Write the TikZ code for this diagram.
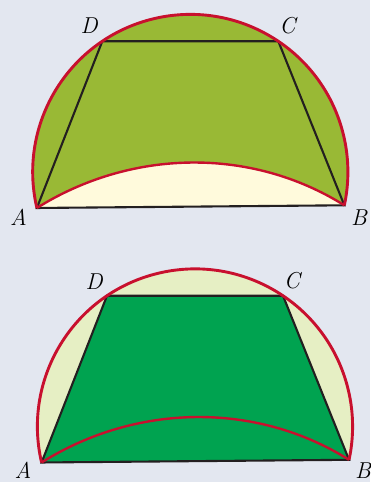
\documentclass[tikz,border=0pt]{standalone}
\usetikzlibrary{calc}
\definecolor{bgc}{RGB}{227,231,240}
\definecolor{olive}{RGB}{153,185,53}
\definecolor{paleyel}{RGB}{255,250,220}
\definecolor{palegrn}{RGB}{230,239,196}
\definecolor{deepgrn}{RGB}{0,163,80}
\definecolor{redline}{RGB}{200,16,46}
\definecolor{darkline}{RGB}{35,31,32}
\tikzset{
  redarc/.style={draw=redline, line width=2.9pt},
  redcurve/.style={draw=redline, line width=2.4pt},
  edge/.style={draw=darkline, line width=2.1pt, line join=miter},
  lbl/.style={anchor=base, inner sep=0pt, font=\fontsize{23}{23}\selectfont\itshape},
}
\begin{document}
\begin{tikzpicture}[x=1pt,y=1pt]
\fill[bgc] (0,0) rectangle (370,482);
\useasboundingbox (0,0) rectangle (370,482);
% ---------- top figure ----------
\begin{scope}
\coordinate (O) at (190.3,310);
\coordinate (A) at ($(O)+(193.2:157.6)$);
\coordinate (B) at ($(O)+(-12.2:157.6)$);
\coordinate (D) at ($(O)+(123.95:157.6)$);
\coordinate (C) at ($(O)+(56.05:157.6)$);
\coordinate (c1) at ($(A)+(94,58.8)$);
\coordinate (c2) at ($(B)+(-94,58.8)$);
\fill[olive] (A) arc[start angle=193.2, end angle=-12.2, radius=157.6]
  .. controls (c2) and (c1) .. (A) -- cycle;
\fill[paleyel] (A) .. controls (c1) and (c2) .. (B) -- cycle;
\draw[edge] (A) -- (D) -- (C) -- (B) -- cycle;
\draw[redarc] (A) arc[start angle=193.2, end angle=-12.2, radius=157.6];
\draw[redcurve] (A) .. controls (c1) and (c2) .. (B);
\node[lbl] (lA) at (18.5,256) {A};
\node[lbl] (lB) at (359,256) {B};
\node[lbl] (lC) at (287.5,448) {C};
\node[lbl] (lD) at (89,448) {D};
\end{scope}
% ---------- bottom figure ----------
\begin{scope}[shift={(4.7,-254.5)}]
\coordinate (O2) at (190.3,310);
\coordinate (A2) at ($(O2)+(193.2:157.6)$);
\coordinate (B2) at ($(O2)+(-12.2:157.6)$);
\coordinate (D2) at ($(O2)+(123.95:157.6)$);
\coordinate (C2) at ($(O2)+(56.05:157.6)$);
\coordinate (d1) at ($(A2)+(94,58.8)$);
\coordinate (d2) at ($(B2)+(-94,58.8)$);
\fill[palegrn] (A2) arc[start angle=193.2, end angle=-12.2, radius=157.6] -- cycle;
\fill[deepgrn] (A2) -- (D2) -- (C2) -- (B2) -- cycle;
\draw[edge] (A2) -- (D2) -- (C2) -- (B2) -- cycle;
\draw[redarc] (A2) arc[start angle=193.2, end angle=-12.2, radius=157.6];
\draw[redcurve] (A2) .. controls (d1) and (d2) .. (B2);
\node[lbl] (lA2) at (18.3,257.5) {A};
\node[lbl] (lB2) at (358.3,257.5) {B};
\node[lbl] (lC2) at (287.3,448.2) {C};
\node[lbl] (lD2) at (89.3,447.2) {D};
\end{scope}
\end{tikzpicture}
\end{document}
